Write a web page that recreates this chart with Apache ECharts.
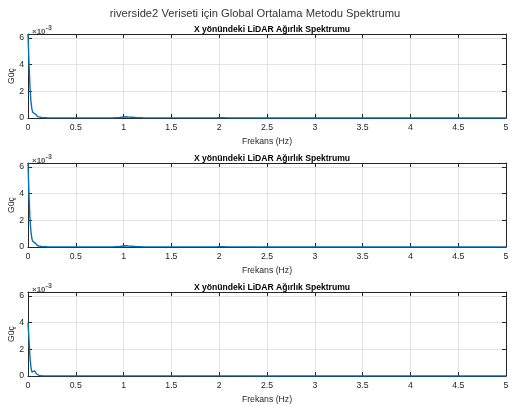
<!DOCTYPE html>
<html>
<head>
<meta charset="utf-8">
<script src="https://cdn.jsdelivr.net/npm/echarts@6/dist/echarts.min.js"></script>
<style>
  html, body { margin: 0; padding: 0; background: #fff; }
  #chart { width: 510px; height: 405px; }
</style>
</head>
<body>
<div id="chart"></div>
<script>
// Spectrum of the LiDAR weights (power values given in units of 1e-3)
const freqHz = [0, 0.01, 0.02, 0.03, 0.04, 0.05, 0.06, 0.07, 0.08, 0.09, 0.10, 0.12, 0.15, 0.2, 0.3, 0.5, 0.7, 0.9, 0.95, 0.98, 1.0, 1.02, 1.05, 1.08, 1.1, 1.15, 1.2, 1.5, 1.9, 1.98, 2.0, 2.03, 2.1, 2.5, 3, 3.5, 4, 4.5, 5];
const power1 = [6.3, 4.2, 2.4, 1.3, 0.7, 0.42, 0.38, 0.36, 0.28, 0.17, 0.1, 0.05, 0.03, 0.02, 0.01, 0.01, 0.01, 0.02, 0.03, 0.06, 0.12, 0.09, 0.07, 0.06, 0.05, 0.03, 0.02, 0.01, 0.01, 0.02, 0.05, 0.03, 0.01, 0.005, 0.005, 0.005, 0.005, 0.005, 0.005];
const power2 = [6.3, 4.0, 2.2, 1.2, 0.65, 0.42, 0.4, 0.36, 0.27, 0.16, 0.09, 0.05, 0.03, 0.02, 0.01, 0.01, 0.01, 0.02, 0.03, 0.06, 0.12, 0.09, 0.07, 0.06, 0.05, 0.03, 0.02, 0.01, 0.01, 0.02, 0.05, 0.03, 0.01, 0.005, 0.005, 0.005, 0.005, 0.005, 0.005];
const power3 = [4.0, 2.8, 1.5, 0.7, 0.3, 0.22, 0.3, 0.38, 0.3, 0.15, 0.06, 0.03, 0.02, 0.01, 0.01, 0.01, 0.01, 0.01, 0.01, 0.01, 0.015, 0.01, 0.01, 0.01, 0.01, 0.01, 0.01, 0.01, 0.01, 0.01, 0.01, 0.01, 0.01, 0.005, 0.005, 0.005, 0.005, 0.005, 0.005];
const xTicks = [0, 0.5, 1, 1.5, 2, 2.5, 3, 3.5, 4, 4.5, 5];
const yTicks = [0, 2, 4, 6];

const mainTitle = 'riverside2 Veriseti için Global Ortalama Metodu Spektrumu';
const subTitle = 'X yönündeki LiDAR Ağırlık Spektrumu';
const xName = 'Frekans (Hz)';
const yName = 'Güç';

const panels = [power1, power2, power3];
const gridTops = [34, 163, 292];
const gridH = 84;
const yMax = 6.3;
const FONT = 'Liberation Sans, Arial, Helvetica, sans-serif';
const AX = '#262626';
const GRIDC = '#e3e3e3';
const FS = 8.7;

const grids = [], xAxes = [], yAxes = [], series = [], titles = [];

titles.push({
  text: mainTitle, left: 'center', top: 3,
  textStyle: { fontFamily: FONT, fontSize: 11.2, fontWeight: 'normal', color: '#333' }
});

panels.forEach((vals, i) => {
  grids.push({ left: 28, right: 4, top: gridTops[i], height: gridH,
    containLabel: false, outerBoundsMode: 'none' });
  const common = { type: 'value', gridIndex: i, min: 0 };
  // bottom x axis with labels
  xAxes.push(Object.assign({}, common, {
    max: 5, interval: 0.5, position: 'bottom',
    name: xName, nameLocation: 'middle', nameGap: 19, nameMoveOverlap: false,
    nameTextStyle: { fontFamily: FONT, fontSize: FS, color: AX },
    axisLine: { show: true, onZero: false, lineStyle: { color: AX, width: 1 } },
    axisTick: { show: true, inside: true, length: 4, lineStyle: { color: AX } },
    axisLabel: { fontFamily: FONT, fontSize: FS, color: AX, margin: 5,
      formatter: v => xTicks.includes(v) ? String(v) : '' },
    splitLine: { show: true, lineStyle: { color: GRIDC, width: 1 } }
  }));
  // top x axis: box edge and ticks only
  xAxes.push(Object.assign({}, common, {
    max: 5, interval: 0.5, position: 'top',
    axisLine: { show: true, onZero: false, lineStyle: { color: AX, width: 1 } },
    axisTick: { show: true, inside: true, length: 4, lineStyle: { color: AX } },
    axisLabel: { show: false }, splitLine: { show: false }
  }));
  // left y axis with labels
  yAxes.push(Object.assign({}, common, {
    max: yMax, interval: 2, position: 'left',
    name: yName, nameLocation: 'middle', nameGap: 12, nameRotate: 90,
    nameMoveOverlap: false,
    nameTextStyle: { fontFamily: FONT, fontSize: FS, color: AX },
    axisLine: { show: true, onZero: false, lineStyle: { color: AX, width: 1 } },
    axisTick: { show: true, inside: true, length: 4, lineStyle: { color: AX },
      customValues: yTicks },
    axisLabel: { fontFamily: FONT, fontSize: FS, color: AX, margin: 4,
      customValues: yTicks, formatter: v => String(v) },
    splitLine: { show: true, lineStyle: { color: GRIDC, width: 1 } }
  }));
  // right y axis: box edge and ticks only
  yAxes.push(Object.assign({}, common, {
    max: yMax, interval: 2, position: 'right',
    axisLine: { show: true, onZero: false, lineStyle: { color: AX, width: 1 } },
    axisTick: { show: true, inside: true, length: 4, lineStyle: { color: AX },
      customValues: yTicks },
    axisLabel: { show: false }, splitLine: { show: false }
  }));

  series.push({
    type: 'line', xAxisIndex: 2 * i, yAxisIndex: 2 * i,
    data: freqHz.map((f, k) => [f, vals[k]]),
    showSymbol: false, symbol: 'none', smooth: false,
    lineStyle: { color: '#0072BD', width: 1.4 },
    clip: true, z: 3
  });

  titles.push({
    text: subTitle, left: 267, textAlign: 'center', top: gridTops[i] - 14,
    textStyle: { fontFamily: FONT, fontSize: 8.6, fontWeight: 'bold', color: '#000' }
  });
  titles.push({
    text: '{a|×10}{b|-3}', left: 27, top: gridTops[i] - 14,
    textStyle: { rich: {
      a: { fontFamily: FONT, fontSize: 8, color: '#555', padding: [3, 0, 0, 0] },
      b: { fontFamily: FONT, fontSize: 7, color: '#555', verticalAlign: 'top' }
    } }
  });
});

const chart = echarts.init(document.getElementById('chart'), null, { renderer: 'canvas' });
chart.setOption({
  animation: false,
  backgroundColor: '#fff',
  title: titles,
  grid: grids,
  xAxis: xAxes,
  yAxis: yAxes,
  series: series
});
</script>
</body>
</html>
